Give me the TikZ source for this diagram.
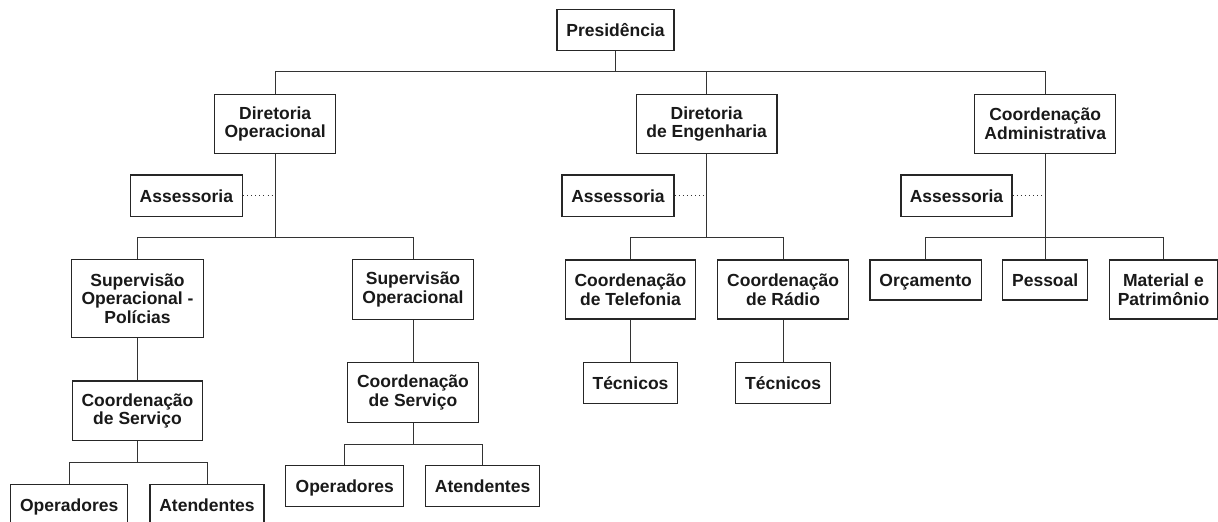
\documentclass[tikz,border=0pt]{standalone}
\usepackage{fontspec}
\setmainfont{Liberation Sans}
\begin{document}
\begin{tikzpicture}[x=1pt,y=-1pt,
  box/.style={draw=black!85,line width=1.1pt,fill=white,inner sep=0pt,align=center,
    font=\fontsize{17.5}{18.5}\selectfont\bfseries,text=black!90},
  one/.style={text height=14pt,text depth=1.5pt},
  conn/.style={draw=black!80,line width=0.9pt},
  dots/.style={draw=black!80,line width=0.9pt,dash pattern=on 0.9pt off 3.2pt}]
\useasboundingbox (0,0) rectangle (1218,522);
\clip (0,0) rectangle (1218,522);
\fill[white] (0,0) rectangle (1218,522);
% nodes
\node[box,one,minimum width=117pt,minimum height=41.4pt] (pres) at (615.5,30) {Presidência};
\node[box,minimum width=121pt,minimum height=59pt] (dop) at (275.2,123.8) {Diretoria\\Operacional};
\node[box,minimum width=140.7pt,minimum height=59pt] (deng) at (706.6,123.8) {Diretoria\\de Engenharia};
\node[box,minimum width=140.8pt,minimum height=59pt] (cadm) at (1045.2,123.8) {Coordenação\\Administrativa};
\node[box,one,minimum width=112pt,minimum height=41.7pt] (ass1) at (186.4,195.8) {Assessoria};
\node[box,one,minimum width=112pt,minimum height=41.7pt] (ass2) at (618,195.8) {Assessoria};
\node[box,one,minimum width=111pt,minimum height=41.7pt] (ass3) at (956.5,195.8) {Assessoria};
\node[box,minimum width=132pt,minimum height=78pt] (sop) at (137.5,298.3) {Supervisão\\Operacional -\\Polícias};
\node[box,minimum width=120.6pt,minimum height=60pt] (so) at (413,289.3) {Supervisão\\Operacional};
\node[box,minimum width=130pt,minimum height=59.7pt] (cs1) at (137.5,410.8) {Coordenação\\de Serviço};
\node[box,minimum width=130.4pt,minimum height=59.6pt] (cs2) at (413,392.5) {Coordenação\\de Serviço};
\node[box,one,minimum width=117pt,minimum height=41pt] (op1) at (69.2,504.8) {Operadores};
\node[box,one,minimum width=114pt,minimum height=41pt] (at1) at (207,504.8) {Atendentes};
\node[box,one,minimum width=117.8pt,minimum height=41pt] (op2) at (344.8,486.2) {Operadores};
\node[box,one,minimum width=113.4pt,minimum height=41pt] (at2) at (482.6,486.2) {Atendentes};
\node[box,minimum width=130.8pt,minimum height=59pt] (ct) at (630.5,289.5) {Coordenação\\de Telefonia};
\node[box,minimum width=130.4pt,minimum height=59pt] (cr) at (783.1,289.5) {Coordenação\\de Rádio};
\node[box,one,minimum width=94.2pt,minimum height=40.6pt] (tec1) at (630.5,383) {Técnicos};
\node[box,one,minimum width=94.6pt,minimum height=40.6pt] (tec2) at (783.1,383) {Técnicos};
\node[box,one,minimum width=111.2pt,minimum height=40pt] (orc) at (925.6,280) {Orçamento};
\node[box,one,minimum width=85.2pt,minimum height=40pt] (pes) at (1045.2,280) {Pessoal};
\node[box,minimum width=108pt,minimum height=59pt] (mat) at (1163.5,289.5) {Material e\\Patrimônio};
% bus levels
\coordinate (b1) at (0,71.7);
\coordinate (b2) at (0,237.5);
\coordinate (b3) at (0,462.3);
\coordinate (b4) at (0,444.3);
% connectors
\draw[conn] (pres.south) -- (pres.south |- b1);
\draw[conn] (dop.north) -- (dop.north |- b1) -- (cadm.north |- b1) -- (cadm.north);
\draw[conn] (deng.north) -- (deng.north |- b1);
\draw[conn] (dop.south) -- (dop.south |- b2);
\draw[conn] (sop.north) -- (sop.north |- b2) -- (so.north |- b2) -- (so.north);
\draw[dots] (ass1.east) -- (ass1.east -| dop.south);
\draw[conn] (deng.south) -- (deng.south |- b2);
\draw[conn] (ct.north) -- (ct.north |- b2) -- (cr.north |- b2) -- (cr.north);
\draw[dots] (ass2.east) -- (ass2.east -| deng.south);
\draw[conn] (cadm.south) -- (pes.north);
\draw[conn] (orc.north) -- (orc.north |- b2) -- (mat.north |- b2) -- (mat.north);
\draw[dots] (ass3.east) -- (ass3.east -| cadm.south);
\draw[conn] (sop.south) -- (cs1.north);
\draw[conn] (cs1.south) -- (cs1.south |- b3);
\draw[conn] (op1.north) -- (op1.north |- b3) -- (at1.north |- b3) -- (at1.north);
\draw[conn] (so.south) -- (cs2.north);
\draw[conn] (cs2.south) -- (cs2.south |- b4);
\draw[conn] (op2.north) -- (op2.north |- b4) -- (at2.north |- b4) -- (at2.north);
\draw[conn] (ct.south) -- (tec1.north);
\draw[conn] (cr.south) -- (tec2.north);
\end{tikzpicture}
\end{document}
